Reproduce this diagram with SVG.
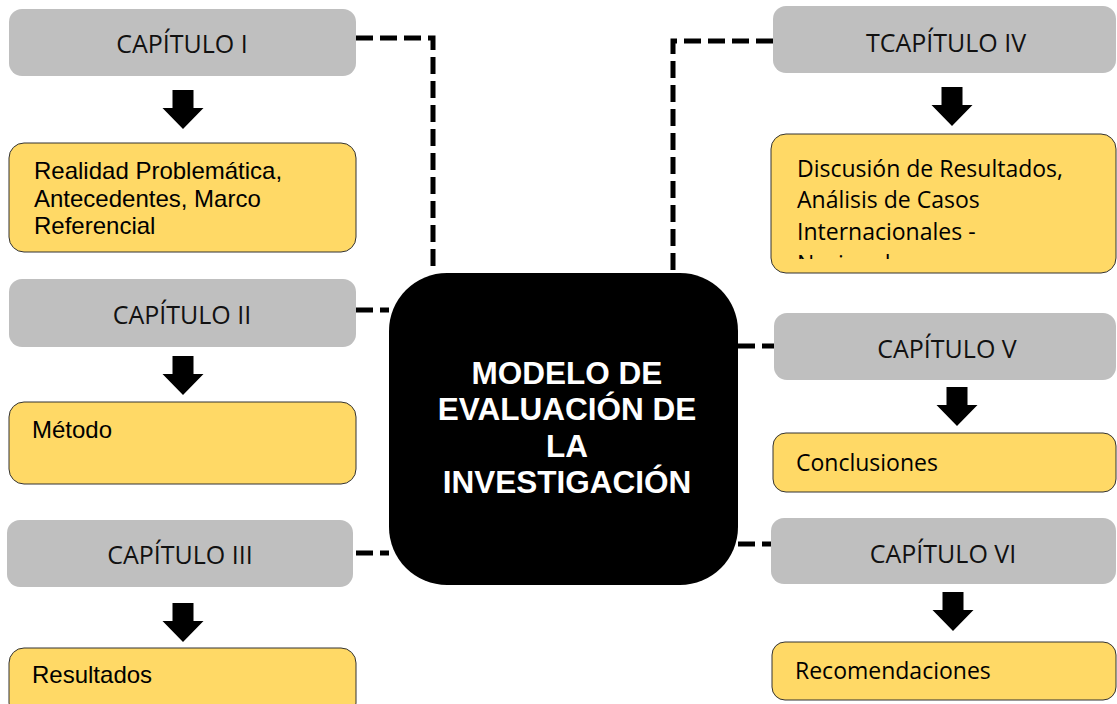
<svg xmlns="http://www.w3.org/2000/svg" width="1117" height="704" viewBox="0 0 1117 704">
<style>
.grey{fill:#BFBFBF;}
.yel{fill:#FFD966;stroke:#333;stroke-width:1;}
.gt{font-family:"Open Sans","Noto Sans",sans-serif;font-size:25px;fill:#111;text-anchor:middle;}
.lt{font-family:"Liberation Sans",Arial,sans-serif;font-size:24px;fill:#000;}
.rt{font-family:"Open Sans","Noto Sans",sans-serif;font-size:23px;fill:#000;}
.ct{font-family:"Liberation Sans",Arial,sans-serif;font-size:31.5px;font-weight:bold;fill:#fff;text-anchor:middle;}
.dash{fill:none;stroke:#000;stroke-width:5;stroke-dasharray:17 7;}
</style>
<defs>
<path id="arr" d="M-10.5,0 H10.5 V18 H20.5 L0,39 L-20.5,18 H-10.5 Z" fill="#000"/>
<clipPath id="clip4"><rect x="771" y="134" width="346" height="125"/></clipPath>
</defs>
<rect width="1117" height="704" fill="#fff"/>
<g id="connectors">
<path class="dash" d="M356,38 H433 V273"/>
<path class="dash" d="M773,41 H673 V273"/>
<path class="dash" d="M356,310 H389"/>
<path class="dash" d="M356,553 H389"/>
<path class="dash" d="M738,346 H774"/>
<path class="dash" d="M738,544 H771"/>
<use href="#arr" x="183" y="90"/>
<use href="#arr" x="183" y="356"/>
<use href="#arr" x="183" y="603"/>
<use href="#arr" x="952" y="87"/>
<use href="#arr" x="957" y="387"/>
<use href="#arr" x="953" y="592"/>
</g>
<g id="center">
<rect x="389" y="273" width="349" height="312" rx="58" fill="#000"/>
<text class="ct" x="567" y="384">MODELO DE</text>
<text class="ct" x="567" y="420">EVALUACIÓN DE</text>
<text class="ct" x="567" y="457">LA</text>
<text class="ct" x="567" y="493">INVESTIGACIÓN</text>
</g>
<g id="cap1">
<rect class="grey" x="9" y="9" width="347" height="67" rx="13"/>
<text class="gt" x="182" y="53">CAPÍTULO I</text>
</g>
<g id="cap1-desc">
<rect class="yel" x="9" y="143" width="347" height="109" rx="15"/>
<text class="lt" x="34" y="179">Realidad Problemática,</text>
<text class="lt" x="34" y="206.5">Antecedentes, Marco</text>
<text class="lt" x="34" y="234">Referencial</text>
</g>
<g id="cap2">
<rect class="grey" x="9" y="279" width="347" height="68" rx="13"/>
<text class="gt" x="182" y="324">CAPÍTULO II</text>
</g>
<g id="cap2-desc">
<rect class="yel" x="9" y="402" width="347" height="82" rx="15"/>
<text class="lt" x="32" y="438">Método</text>
</g>
<g id="cap3">
<rect class="grey" x="7" y="520" width="346" height="67" rx="13"/>
<text class="gt" x="180" y="564">CAPÍTULO III</text>
</g>
<g id="cap3-desc">
<rect class="yel" x="9" y="648" width="347" height="70" rx="15"/>
<text class="lt" x="32" y="683">Resultados</text>
</g>
<g id="cap4">
<rect class="grey" x="773" y="6" width="343" height="67" rx="13"/>
<text class="gt" x="946" y="52">TCAPÍTULO IV</text>
</g>
<g id="cap4-desc">
<rect class="yel" x="771" y="134" width="345" height="139" rx="15"/>
<g clip-path="url(#clip4)">
<text class="rt" x="797" y="177">Discusión de Resultados,</text>
<text class="rt" x="797" y="208">Análisis de Casos</text>
<text class="rt" x="797" y="240">Internacionales -</text>
<text class="rt" x="797" y="272">Nacionales</text>
</g>
</g>
<g id="cap5">
<rect class="grey" x="774" y="313" width="342" height="67" rx="13"/>
<text class="gt" x="947" y="358">CAPÍTULO V</text>
</g>
<g id="cap5-desc">
<rect class="yel" x="773" y="433" width="343" height="59" rx="13"/>
<text class="rt" x="796" y="471">Conclusiones</text>
</g>
<g id="cap6">
<rect class="grey" x="771" y="518" width="345" height="66" rx="13"/>
<text class="gt" x="943" y="563">CAPÍTULO VI</text>
</g>
<g id="cap6-desc">
<rect class="yel" x="772" y="642" width="344" height="58" rx="13"/>
<text class="rt" x="795" y="679">Recomendaciones</text>
</g>
</svg>
